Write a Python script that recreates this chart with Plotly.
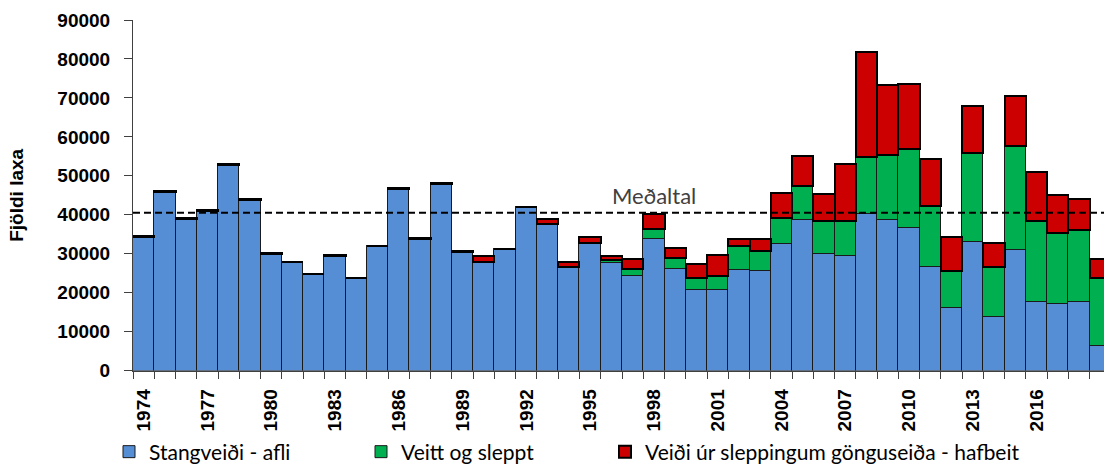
import plotly.graph_objects as go

# Laxveiði á stöng, 1974-2019
years = list(range(1974, 2020))

stangveidi = [
    34300, 45800, 39000, 41000, 52800, 43900, 30000, 27800, 24700, 29400,
    23700, 31900, 46600, 33900, 47900, 30400, 28000, 31100, 41900, 37700,
    26500, 32700, 27600, 24200, 33700, 26100, 20800, 20800, 25900, 25500,
    32500, 38600, 30000, 29300, 40300, 38600, 36500, 26700, 16100, 33100,
    13800, 31000, 17700, 17100, 17700, 6400,
]

veitt_sleppt = [
    0, 0, 0, 0, 0, 0, 0, 0, 0, 0,
    0, 0, 0, 0, 0, 0, 0, 0, 0, 0,
    0, 0, 800, 1900, 2600, 2800, 3000, 3600, 6000, 5200,
    6700, 8800, 8400, 9000, 14500, 16800, 20400, 15600, 9400, 22700,
    12900, 26600, 20700, 18100, 18400, 17500,
]

hafbeit = [
    200, 200, 200, 200, 200, 200, 200, 200, 200, 200,
    200, 200, 200, 200, 200, 200, 1500, 200, 200, 1200,
    1500, 1500, 1100, 2500, 4000, 2500, 3500, 5400, 1900, 3100,
    6400, 7600, 7000, 14700, 26900, 17800, 16800, 11900, 8900, 12000,
    6100, 12900, 12700, 9800, 7900, 4800,
]

series_names = [
    "Stangveiði - afli",
    "Veitt og sleppt",
    "Veiði úr sleppingum gönguseiða - hafbeit",
]

medaltal = 40500
label_years = years[::3]

BLUE = "#558ED5"
GREEN = "#00B050"
RED = "#CC0000"
AXIS_FONT = dict(family="Liberation Sans, Arial, sans-serif", size=19,
                 color="#000000", weight="bold")
LEGEND_FONT = dict(family="Lato, sans-serif", size=21, color="#000000")

fig = go.Figure()

fig.add_trace(go.Bar(
    x=years, y=stangveidi, name=series_names[0], width=1,
    marker=dict(color=BLUE, line=dict(color="#1a1a1a", width=1)),
    legend="legend2",
))
fig.add_trace(go.Bar(
    x=years, y=veitt_sleppt, name=series_names[1], width=1,
    marker=dict(color=GREEN, line=dict(color="#1a1a1a", width=1)),
    legend="legend3",
))
fig.add_trace(go.Bar(
    x=years, y=hafbeit, name=series_names[2], width=1,
    marker=dict(color=RED, line=dict(color="#000000", width=2)),
    legend="legend4",
))

# Meðaltal (average) reference line
fig.add_shape(
    type="line", xref="paper", x0=0, x1=1, yref="y", y0=medaltal, y1=medaltal,
    line=dict(color="#000000", width=2, dash="7px,4px"), layer="above",
)
fig.add_annotation(
    x=1998, y=medaltal, xref="x", yref="y", text="Meðaltal",
    showarrow=False, yanchor="bottom", yshift=2,
    font=dict(family="Lato, sans-serif", size=22, color="#404040"),
)

legend_common = dict(
    orientation="h", xref="container", yref="container",
    yanchor="middle", y=1 - 452 / 464, xanchor="left",
    font=LEGEND_FONT, bgcolor="rgba(0,0,0,0)", itemwidth=30,
    tracegroupgap=0,
)

fig.update_layout(
    width=1104, height=464,
    margin=dict(l=133, r=0, t=20, b=91),
    paper_bgcolor="#ffffff", plot_bgcolor="#ffffff",
    barmode="stack", bargap=0,
    legend2=dict(legend_common, x=109 / 1104),
    legend3=dict(legend_common, x=361 / 1104),
    legend4=dict(legend_common, x=605 / 1104),
    xaxis=dict(
        range=[1973.5, 2019.17],
        tickmode="array", tickvals=label_years,
        ticktext=[str(y) for y in label_years],
        tickangle=-90, ticks="", tickfont=AXIS_FONT,
        ticklabelstandoff=10,
        showline=True, linecolor="#404040", linewidth=1,
        showgrid=False, zeroline=False,
        minor=dict(tickmode="linear", tick0=1973.5, dtick=1,
                   ticks="outside", ticklen=7, tickcolor="#404040", showgrid=False),
    ),
    yaxis=dict(
        range=[0, 90000], tickmode="linear", tick0=0, dtick=10000,
        tickformat="d",
        ticks="outside", ticklen=8, tickcolor="#404040",
        ticklabelstandoff=10,
        tickfont=AXIS_FONT, showline=True, linecolor="#404040", linewidth=1,
        showgrid=False, zeroline=False,
        title=dict(text="Fjöldi laxa", font=AXIS_FONT, standoff=28),
    ),
)

fig.write_html("out.html")
